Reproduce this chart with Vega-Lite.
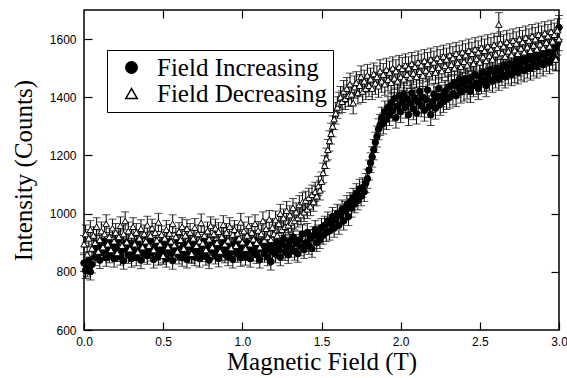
{
"$schema": "https://vega.github.io/schema/vega-lite/v6.json",
"width": 475, "height": 320,
"autosize": {"type": "none"},
"padding": {"left": 84, "top": 10, "right": 8, "bottom": 48},
"background": "white",
"config": {"view": {"stroke": "black", "strokeWidth": 1.5},
 "axis": {"domain": false, "grid": false, "tickColor": "black", "tickWidth": 1.2, "labelColor": "black", "titleColor": "black", "labelFont": "Liberation Sans", "labelFontSize": 12, "titleFont": "Liberation Serif", "titleFontSize": 25, "titleFontWeight": "normal", "labelFlush": false, "labelOverlap": false}},
"data": {"values": [
{"s":"I","x":0.00,"y":830,"e":29},{"s":"I","x":0.01,"y":805,"e":28},{"s":"I","x":0.02,"y":812,"e":29},{"s":"I","x":0.03,"y":840,"e":29},{"s":"I","x":0.04,"y":800,"e":28},{"s":"I","x":0.05,"y":825,"e":29},{"s":"I","x":0.06,"y":878,"e":30},{"s":"I","x":0.07,"y":850,"e":29},{"s":"I","x":0.08,"y":895,"e":30},{"s":"I","x":0.09,"y":862,"e":29},
{"s":"I","x":0.10,"y":840,"e":29},{"s":"I","x":0.11,"y":885,"e":30},{"s":"I","x":0.12,"y":870,"e":30},{"s":"I","x":0.13,"y":905,"e":30},{"s":"I","x":0.14,"y":848,"e":29},{"s":"I","x":0.15,"y":880,"e":30},{"s":"I","x":0.16,"y":860,"e":29},{"s":"I","x":0.17,"y":898,"e":30},{"s":"I","x":0.18,"y":872,"e":30},{"s":"I","x":0.19,"y":845,"e":29},
{"s":"I","x":0.20,"y":890,"e":30},{"s":"I","x":0.21,"y":866,"e":29},{"s":"I","x":0.22,"y":910,"e":30},{"s":"I","x":0.23,"y":852,"e":29},{"s":"I","x":0.24,"y":875,"e":30},{"s":"I","x":0.25,"y":838,"e":29},{"s":"I","x":0.26,"y":884,"e":30},{"s":"I","x":0.27,"y":900,"e":30},{"s":"I","x":0.28,"y":858,"e":29},{"s":"I","x":0.29,"y":876,"e":30},
{"s":"I","x":0.30,"y":845,"e":29},{"s":"I","x":0.31,"y":892,"e":30},{"s":"I","x":0.32,"y":868,"e":29},{"s":"I","x":0.33,"y":850,"e":29},{"s":"I","x":0.34,"y":904,"e":30},{"s":"I","x":0.35,"y":874,"e":30},{"s":"I","x":0.36,"y":840,"e":29},{"s":"I","x":0.37,"y":886,"e":30},{"s":"I","x":0.38,"y":862,"e":29},{"s":"I","x":0.39,"y":896,"e":30},
{"s":"I","x":0.40,"y":855,"e":29},{"s":"I","x":0.41,"y":880,"e":30},{"s":"I","x":0.42,"y":908,"e":30},{"s":"I","x":0.43,"y":866,"e":29},{"s":"I","x":0.44,"y":842,"e":29},{"s":"I","x":0.45,"y":888,"e":30},{"s":"I","x":0.46,"y":870,"e":30},{"s":"I","x":0.47,"y":852,"e":29},{"s":"I","x":0.48,"y":898,"e":30},{"s":"I","x":0.49,"y":876,"e":30},
{"s":"I","x":0.50,"y":860,"e":29},{"s":"I","x":0.51,"y":893,"e":30},{"s":"I","x":0.52,"y":845,"e":29},{"s":"I","x":0.53,"y":880,"e":30},{"s":"I","x":0.54,"y":902,"e":30},{"s":"I","x":0.55,"y":864,"e":29},{"s":"I","x":0.56,"y":838,"e":29},{"s":"I","x":0.57,"y":884,"e":30},{"s":"I","x":0.58,"y":872,"e":30},{"s":"I","x":0.59,"y":906,"e":30},
{"s":"I","x":0.60,"y":856,"e":29},{"s":"I","x":0.61,"y":878,"e":30},{"s":"I","x":0.62,"y":848,"e":29},{"s":"I","x":0.63,"y":894,"e":30},{"s":"I","x":0.64,"y":868,"e":29},{"s":"I","x":0.65,"y":842,"e":29},{"s":"I","x":0.66,"y":886,"e":30},{"s":"I","x":0.67,"y":900,"e":30},{"s":"I","x":0.68,"y":858,"e":29},{"s":"I","x":0.69,"y":875,"e":30},
{"s":"I","x":0.70,"y":850,"e":29},{"s":"I","x":0.71,"y":896,"e":30},{"s":"I","x":0.72,"y":870,"e":30},{"s":"I","x":0.73,"y":845,"e":29},{"s":"I","x":0.74,"y":890,"e":30},{"s":"I","x":0.75,"y":864,"e":29},{"s":"I","x":0.76,"y":905,"e":30},{"s":"I","x":0.77,"y":852,"e":29},{"s":"I","x":0.78,"y":880,"e":30},{"s":"I","x":0.79,"y":840,"e":29},
{"s":"I","x":0.80,"y":888,"e":30},{"s":"I","x":0.81,"y":872,"e":30},{"s":"I","x":0.82,"y":898,"e":30},{"s":"I","x":0.83,"y":856,"e":29},{"s":"I","x":0.84,"y":876,"e":30},{"s":"I","x":0.85,"y":846,"e":29},{"s":"I","x":0.86,"y":892,"e":30},{"s":"I","x":0.87,"y":866,"e":29},{"s":"I","x":0.88,"y":910,"e":30},{"s":"I","x":0.89,"y":860,"e":29},
{"s":"I","x":0.90,"y":882,"e":30},{"s":"I","x":0.91,"y":850,"e":29},{"s":"I","x":0.92,"y":894,"e":30},{"s":"I","x":0.93,"y":870,"e":30},{"s":"I","x":0.94,"y":842,"e":29},{"s":"I","x":0.95,"y":887,"e":30},{"s":"I","x":0.96,"y":902,"e":30},{"s":"I","x":0.97,"y":862,"e":29},{"s":"I","x":0.98,"y":878,"e":30},{"s":"I","x":0.99,"y":848,"e":29},
{"s":"I","x":1.00,"y":895,"e":30},{"s":"I","x":1.01,"y":868,"e":29},{"s":"I","x":1.02,"y":852,"e":29},{"s":"I","x":1.03,"y":900,"e":30},{"s":"I","x":1.04,"y":874,"e":30},{"s":"I","x":1.05,"y":845,"e":29},{"s":"I","x":1.06,"y":890,"e":30},{"s":"I","x":1.07,"y":866,"e":29},{"s":"I","x":1.08,"y":908,"e":30},{"s":"I","x":1.09,"y":858,"e":29},
{"s":"I","x":1.10,"y":880,"e":30},{"s":"I","x":1.11,"y":842,"e":29},{"s":"I","x":1.12,"y":886,"e":30},{"s":"I","x":1.13,"y":900,"e":30},{"s":"I","x":1.14,"y":862,"e":29},{"s":"I","x":1.15,"y":876,"e":30},{"s":"I","x":1.16,"y":850,"e":29},{"s":"I","x":1.17,"y":895,"e":30},{"s":"I","x":1.18,"y":835,"e":29},{"s":"I","x":1.19,"y":870,"e":30},
{"s":"I","x":1.20,"y":888,"e":30},{"s":"I","x":1.21,"y":860,"e":29},{"s":"I","x":1.22,"y":902,"e":30},{"s":"I","x":1.23,"y":876,"e":30},{"s":"I","x":1.24,"y":850,"e":29},{"s":"I","x":1.25,"y":895,"e":30},{"s":"I","x":1.26,"y":912,"e":30},{"s":"I","x":1.27,"y":868,"e":29},{"s":"I","x":1.28,"y":888,"e":30},{"s":"I","x":1.29,"y":858,"e":29},
{"s":"I","x":1.30,"y":905,"e":30},{"s":"I","x":1.31,"y":880,"e":30},{"s":"I","x":1.32,"y":920,"e":30},{"s":"I","x":1.33,"y":870,"e":30},{"s":"I","x":1.34,"y":898,"e":30},{"s":"I","x":1.35,"y":862,"e":29},{"s":"I","x":1.36,"y":910,"e":30},{"s":"I","x":1.37,"y":885,"e":30},{"s":"I","x":1.38,"y":930,"e":31},{"s":"I","x":1.39,"y":876,"e":30},
{"s":"I","x":1.40,"y":900,"e":30},{"s":"I","x":1.41,"y":935,"e":31},{"s":"I","x":1.42,"y":890,"e":30},{"s":"I","x":1.43,"y":915,"e":30},{"s":"I","x":1.44,"y":880,"e":30},{"s":"I","x":1.45,"y":925,"e":30},{"s":"I","x":1.46,"y":945,"e":31},{"s":"I","x":1.47,"y":900,"e":30},{"s":"I","x":1.48,"y":930,"e":31},{"s":"I","x":1.49,"y":910,"e":30},
{"s":"I","x":1.50,"y":952,"e":31},{"s":"I","x":1.51,"y":925,"e":30},{"s":"I","x":1.52,"y":960,"e":31},{"s":"I","x":1.53,"y":935,"e":31},{"s":"I","x":1.54,"y":975,"e":31},{"s":"I","x":1.55,"y":940,"e":31},{"s":"I","x":1.56,"y":965,"e":31},{"s":"I","x":1.57,"y":990,"e":31},{"s":"I","x":1.58,"y":950,"e":31},{"s":"I","x":1.59,"y":980,"e":31},
{"s":"I","x":1.60,"y":1000,"e":32},{"s":"I","x":1.61,"y":960,"e":31},{"s":"I","x":1.62,"y":995,"e":32},{"s":"I","x":1.63,"y":1015,"e":32},{"s":"I","x":1.64,"y":975,"e":31},{"s":"I","x":1.65,"y":1010,"e":32},{"s":"I","x":1.66,"y":1030,"e":32},{"s":"I","x":1.67,"y":990,"e":31},{"s":"I","x":1.68,"y":1040,"e":32},{"s":"I","x":1.69,"y":1020,"e":32},
{"s":"I","x":1.70,"y":1055,"e":32},{"s":"I","x":1.71,"y":1035,"e":32},{"s":"I","x":1.72,"y":1070,"e":33},{"s":"I","x":1.73,"y":1045,"e":32},{"s":"I","x":1.74,"y":1085,"e":33},{"s":"I","x":1.75,"y":1060,"e":33},{"s":"I","x":1.76,"y":1090,"e":33},{"s":"I","x":1.77,"y":1075,"e":33},{"s":"I","x":1.78,"y":1105,"e":33},{"s":"I","x":1.79,"y":1120,"e":33},
{"s":"I","x":1.80,"y":1150,"e":34},{"s":"I","x":1.81,"y":1175,"e":34},{"s":"I","x":1.82,"y":1195,"e":35},{"s":"I","x":1.83,"y":1220,"e":35},{"s":"I","x":1.84,"y":1245,"e":35},{"s":"I","x":1.85,"y":1265,"e":36},{"s":"I","x":1.86,"y":1290,"e":36},{"s":"I","x":1.87,"y":1305,"e":36},{"s":"I","x":1.88,"y":1330,"e":36},{"s":"I","x":1.89,"y":1310,"e":36},
{"s":"I","x":1.90,"y":1350,"e":37},{"s":"I","x":1.91,"y":1325,"e":36},{"s":"I","x":1.92,"y":1365,"e":37},{"s":"I","x":1.93,"y":1340,"e":37},{"s":"I","x":1.94,"y":1380,"e":37},{"s":"I","x":1.95,"y":1355,"e":37},{"s":"I","x":1.96,"y":1395,"e":37},{"s":"I","x":1.97,"y":1330,"e":36},{"s":"I","x":1.98,"y":1370,"e":37},{"s":"I","x":1.99,"y":1405,"e":37},
{"s":"I","x":2.00,"y":1350,"e":37},{"s":"I","x":2.01,"y":1385,"e":37},{"s":"I","x":2.02,"y":1410,"e":38},{"s":"I","x":2.03,"y":1365,"e":37},{"s":"I","x":2.04,"y":1395,"e":37},{"s":"I","x":2.05,"y":1340,"e":37},{"s":"I","x":2.06,"y":1380,"e":37},{"s":"I","x":2.07,"y":1415,"e":38},{"s":"I","x":2.08,"y":1360,"e":37},{"s":"I","x":2.09,"y":1398,"e":37},
{"s":"I","x":2.10,"y":1345,"e":37},{"s":"I","x":2.11,"y":1385,"e":37},{"s":"I","x":2.12,"y":1420,"e":38},{"s":"I","x":2.13,"y":1370,"e":37},{"s":"I","x":2.14,"y":1400,"e":37},{"s":"I","x":2.15,"y":1355,"e":37},{"s":"I","x":2.16,"y":1392,"e":37},{"s":"I","x":2.17,"y":1425,"e":38},{"s":"I","x":2.18,"y":1368,"e":37},{"s":"I","x":2.19,"y":1340,"e":37},
{"s":"I","x":2.20,"y":1385,"e":37},{"s":"I","x":2.21,"y":1410,"e":38},{"s":"I","x":2.22,"y":1362,"e":37},{"s":"I","x":2.23,"y":1398,"e":37},{"s":"I","x":2.24,"y":1430,"e":38},{"s":"I","x":2.25,"y":1375,"e":37},{"s":"I","x":2.26,"y":1405,"e":37},{"s":"I","x":2.27,"y":1385,"e":37},{"s":"I","x":2.28,"y":1420,"e":38},{"s":"I","x":2.29,"y":1395,"e":37},
{"s":"I","x":2.30,"y":1435,"e":38},{"s":"I","x":2.31,"y":1400,"e":37},{"s":"I","x":2.32,"y":1440,"e":38},{"s":"I","x":2.33,"y":1412,"e":38},{"s":"I","x":2.34,"y":1450,"e":38},{"s":"I","x":2.35,"y":1405,"e":37},{"s":"I","x":2.36,"y":1438,"e":38},{"s":"I","x":2.37,"y":1462,"e":38},{"s":"I","x":2.38,"y":1418,"e":38},{"s":"I","x":2.39,"y":1448,"e":38},
{"s":"I","x":2.40,"y":1425,"e":38},{"s":"I","x":2.41,"y":1465,"e":38},{"s":"I","x":2.42,"y":1432,"e":38},{"s":"I","x":2.43,"y":1455,"e":38},{"s":"I","x":2.44,"y":1420,"e":38},{"s":"I","x":2.45,"y":1470,"e":38},{"s":"I","x":2.46,"y":1440,"e":38},{"s":"I","x":2.47,"y":1478,"e":38},{"s":"I","x":2.48,"y":1448,"e":38},{"s":"I","x":2.49,"y":1430,"e":38},
{"s":"I","x":2.50,"y":1472,"e":38},{"s":"I","x":2.51,"y":1450,"e":38},{"s":"I","x":2.52,"y":1485,"e":39},{"s":"I","x":2.53,"y":1458,"e":38},{"s":"I","x":2.54,"y":1440,"e":38},{"s":"I","x":2.55,"y":1480,"e":38},{"s":"I","x":2.56,"y":1462,"e":38},{"s":"I","x":2.57,"y":1495,"e":39},{"s":"I","x":2.58,"y":1455,"e":38},{"s":"I","x":2.59,"y":1488,"e":39},
{"s":"I","x":2.60,"y":1470,"e":38},{"s":"I","x":2.61,"y":1500,"e":39},{"s":"I","x":2.62,"y":1462,"e":38},{"s":"I","x":2.63,"y":1492,"e":39},{"s":"I","x":2.64,"y":1478,"e":38},{"s":"I","x":2.65,"y":1510,"e":39},{"s":"I","x":2.66,"y":1470,"e":38},{"s":"I","x":2.67,"y":1502,"e":39},{"s":"I","x":2.68,"y":1485,"e":39},{"s":"I","x":2.69,"y":1515,"e":39},
{"s":"I","x":2.70,"y":1478,"e":38},{"s":"I","x":2.71,"y":1505,"e":39},{"s":"I","x":2.72,"y":1490,"e":39},{"s":"I","x":2.73,"y":1525,"e":39},{"s":"I","x":2.74,"y":1485,"e":39},{"s":"I","x":2.75,"y":1512,"e":39},{"s":"I","x":2.76,"y":1498,"e":39},{"s":"I","x":2.77,"y":1530,"e":39},{"s":"I","x":2.78,"y":1492,"e":39},{"s":"I","x":2.79,"y":1520,"e":39},
{"s":"I","x":2.80,"y":1505,"e":39},{"s":"I","x":2.81,"y":1538,"e":39},{"s":"I","x":2.82,"y":1498,"e":39},{"s":"I","x":2.83,"y":1528,"e":39},{"s":"I","x":2.84,"y":1512,"e":39},{"s":"I","x":2.85,"y":1545,"e":39},{"s":"I","x":2.86,"y":1505,"e":39},{"s":"I","x":2.87,"y":1535,"e":39},{"s":"I","x":2.88,"y":1520,"e":39},{"s":"I","x":2.89,"y":1552,"e":39},
{"s":"I","x":2.90,"y":1512,"e":39},{"s":"I","x":2.91,"y":1545,"e":39},{"s":"I","x":2.92,"y":1528,"e":39},{"s":"I","x":2.93,"y":1560,"e":40},{"s":"I","x":2.94,"y":1520,"e":39},{"s":"I","x":2.95,"y":1550,"e":39},{"s":"I","x":2.96,"y":1535,"e":39},{"s":"I","x":2.97,"y":1568,"e":40},{"s":"I","x":2.98,"y":1530,"e":39},{"s":"I","x":2.99,"y":1585,"e":40},
{"s":"I","x":3.00,"y":1640,"e":41},
{"s":"D","x":0.00,"y":895,"e":30},{"s":"D","x":0.01,"y":930,"e":31},{"s":"D","x":0.02,"y":860,"e":29},{"s":"D","x":0.03,"y":915,"e":30},{"s":"D","x":0.04,"y":945,"e":31},{"s":"D","x":0.05,"y":880,"e":30},{"s":"D","x":0.06,"y":925,"e":30},{"s":"D","x":0.07,"y":900,"e":30},{"s":"D","x":0.08,"y":955,"e":31},{"s":"D","x":0.09,"y":870,"e":30},
{"s":"D","x":0.10,"y":910,"e":30},{"s":"D","x":0.11,"y":940,"e":31},{"s":"D","x":0.12,"y":885,"e":30},{"s":"D","x":0.13,"y":930,"e":31},{"s":"D","x":0.14,"y":965,"e":31},{"s":"D","x":0.15,"y":895,"e":30},{"s":"D","x":0.16,"y":920,"e":30},{"s":"D","x":0.17,"y":875,"e":30},{"s":"D","x":0.18,"y":950,"e":31},{"s":"D","x":0.19,"y":905,"e":30},
{"s":"D","x":0.20,"y":935,"e":31},{"s":"D","x":0.21,"y":865,"e":29},{"s":"D","x":0.22,"y":920,"e":30},{"s":"D","x":0.23,"y":958,"e":31},{"s":"D","x":0.24,"y":890,"e":30},{"s":"D","x":0.25,"y":930,"e":31},{"s":"D","x":0.26,"y":975,"e":31},{"s":"D","x":0.27,"y":902,"e":30},{"s":"D","x":0.28,"y":940,"e":31},{"s":"D","x":0.29,"y":878,"e":30},
{"s":"D","x":0.30,"y":925,"e":30},{"s":"D","x":0.31,"y":955,"e":31},{"s":"D","x":0.32,"y":895,"e":30},{"s":"D","x":0.33,"y":935,"e":31},{"s":"D","x":0.34,"y":868,"e":29},{"s":"D","x":0.35,"y":915,"e":30},{"s":"D","x":0.36,"y":948,"e":31},{"s":"D","x":0.37,"y":885,"e":30},{"s":"D","x":0.38,"y":930,"e":31},{"s":"D","x":0.39,"y":905,"e":30},
{"s":"D","x":0.40,"y":960,"e":31},{"s":"D","x":0.41,"y":890,"e":30},{"s":"D","x":0.42,"y":925,"e":30},{"s":"D","x":0.43,"y":950,"e":31},{"s":"D","x":0.44,"y":875,"e":30},{"s":"D","x":0.45,"y":935,"e":31},{"s":"D","x":0.46,"y":908,"e":30},{"s":"D","x":0.47,"y":970,"e":31},{"s":"D","x":0.48,"y":895,"e":30},{"s":"D","x":0.49,"y":928,"e":30},
{"s":"D","x":0.50,"y":855,"e":29},{"s":"D","x":0.51,"y":915,"e":30},{"s":"D","x":0.52,"y":945,"e":31},{"s":"D","x":0.53,"y":885,"e":30},{"s":"D","x":0.54,"y":932,"e":31},{"s":"D","x":0.55,"y":905,"e":30},{"s":"D","x":0.56,"y":965,"e":31},{"s":"D","x":0.57,"y":892,"e":30},{"s":"D","x":0.58,"y":920,"e":30},{"s":"D","x":0.59,"y":870,"e":30},
{"s":"D","x":0.60,"y":938,"e":31},{"s":"D","x":0.61,"y":910,"e":30},{"s":"D","x":0.62,"y":955,"e":31},{"s":"D","x":0.63,"y":880,"e":30},{"s":"D","x":0.64,"y":925,"e":30},{"s":"D","x":0.65,"y":948,"e":31},{"s":"D","x":0.66,"y":895,"e":30},{"s":"D","x":0.67,"y":935,"e":31},{"s":"D","x":0.68,"y":862,"e":29},{"s":"D","x":0.69,"y":915,"e":30},
{"s":"D","x":0.70,"y":952,"e":31},{"s":"D","x":0.71,"y":890,"e":30},{"s":"D","x":0.72,"y":930,"e":31},{"s":"D","x":0.73,"y":905,"e":30},{"s":"D","x":0.74,"y":968,"e":31},{"s":"D","x":0.75,"y":898,"e":30},{"s":"D","x":0.76,"y":925,"e":30},{"s":"D","x":0.77,"y":875,"e":30},{"s":"D","x":0.78,"y":940,"e":31},{"s":"D","x":0.79,"y":912,"e":30},
{"s":"D","x":0.80,"y":958,"e":31},{"s":"D","x":0.81,"y":885,"e":30},{"s":"D","x":0.82,"y":930,"e":31},{"s":"D","x":0.83,"y":950,"e":31},{"s":"D","x":0.84,"y":900,"e":30},{"s":"D","x":0.85,"y":938,"e":31},{"s":"D","x":0.86,"y":870,"e":30},{"s":"D","x":0.87,"y":920,"e":30},{"s":"D","x":0.88,"y":962,"e":31},{"s":"D","x":0.89,"y":895,"e":30},
{"s":"D","x":0.90,"y":935,"e":31},{"s":"D","x":0.91,"y":908,"e":30},{"s":"D","x":0.92,"y":955,"e":31},{"s":"D","x":0.93,"y":882,"e":30},{"s":"D","x":0.94,"y":928,"e":30},{"s":"D","x":0.95,"y":945,"e":31},{"s":"D","x":0.96,"y":890,"e":30},{"s":"D","x":0.97,"y":932,"e":31},{"s":"D","x":0.98,"y":915,"e":30},{"s":"D","x":0.99,"y":970,"e":31},
{"s":"D","x":1.00,"y":902,"e":30},{"s":"D","x":1.01,"y":940,"e":31},{"s":"D","x":1.02,"y":880,"e":30},{"s":"D","x":1.03,"y":925,"e":30},{"s":"D","x":1.04,"y":958,"e":31},{"s":"D","x":1.05,"y":895,"e":30},{"s":"D","x":1.06,"y":935,"e":31},{"s":"D","x":1.07,"y":912,"e":30},{"s":"D","x":1.08,"y":965,"e":31},{"s":"D","x":1.09,"y":900,"e":30},
{"s":"D","x":1.10,"y":942,"e":31},{"s":"D","x":1.11,"y":885,"e":30},{"s":"D","x":1.12,"y":930,"e":31},{"s":"D","x":1.13,"y":975,"e":31},{"s":"D","x":1.14,"y":908,"e":30},{"s":"D","x":1.15,"y":948,"e":31},{"s":"D","x":1.16,"y":920,"e":30},{"s":"D","x":1.17,"y":980,"e":31},{"s":"D","x":1.18,"y":910,"e":30},{"s":"D","x":1.19,"y":952,"e":31},
{"s":"D","x":1.20,"y":930,"e":31},{"s":"D","x":1.21,"y":978,"e":31},{"s":"D","x":1.22,"y":925,"e":30},{"s":"D","x":1.23,"y":965,"e":31},{"s":"D","x":1.24,"y":1000,"e":32},{"s":"D","x":1.25,"y":945,"e":31},{"s":"D","x":1.26,"y":985,"e":31},{"s":"D","x":1.27,"y":955,"e":31},{"s":"D","x":1.28,"y":1010,"e":32},{"s":"D","x":1.29,"y":960,"e":31},
{"s":"D","x":1.30,"y":995,"e":32},{"s":"D","x":1.31,"y":970,"e":31},{"s":"D","x":1.32,"y":1020,"e":32},{"s":"D","x":1.33,"y":975,"e":31},{"s":"D","x":1.34,"y":1005,"e":32},{"s":"D","x":1.35,"y":985,"e":31},{"s":"D","x":1.36,"y":1030,"e":32},{"s":"D","x":1.37,"y":995,"e":32},{"s":"D","x":1.38,"y":1040,"e":32},{"s":"D","x":1.39,"y":1005,"e":32},
{"s":"D","x":1.40,"y":1045,"e":32},{"s":"D","x":1.41,"y":1015,"e":32},{"s":"D","x":1.42,"y":1055,"e":32},{"s":"D","x":1.43,"y":1025,"e":32},{"s":"D","x":1.44,"y":1065,"e":33},{"s":"D","x":1.45,"y":1040,"e":32},{"s":"D","x":1.46,"y":1075,"e":33},{"s":"D","x":1.47,"y":1060,"e":33},{"s":"D","x":1.48,"y":1095,"e":33},{"s":"D","x":1.49,"y":1080,"e":33},
{"s":"D","x":1.50,"y":1110,"e":33},{"s":"D","x":1.51,"y":1140,"e":34},{"s":"D","x":1.52,"y":1165,"e":34},{"s":"D","x":1.53,"y":1190,"e":35},{"s":"D","x":1.54,"y":1220,"e":35},{"s":"D","x":1.55,"y":1250,"e":35},{"s":"D","x":1.56,"y":1275,"e":36},{"s":"D","x":1.57,"y":1300,"e":36},{"s":"D","x":1.58,"y":1325,"e":36},{"s":"D","x":1.59,"y":1345,"e":37},
{"s":"D","x":1.60,"y":1365,"e":37},{"s":"D","x":1.61,"y":1380,"e":37},{"s":"D","x":1.62,"y":1400,"e":37},{"s":"D","x":1.63,"y":1385,"e":37},{"s":"D","x":1.64,"y":1420,"e":38},{"s":"D","x":1.65,"y":1395,"e":37},{"s":"D","x":1.66,"y":1430,"e":38},{"s":"D","x":1.67,"y":1405,"e":37},{"s":"D","x":1.68,"y":1445,"e":38},{"s":"D","x":1.69,"y":1410,"e":38},
{"s":"D","x":1.70,"y":1380,"e":37},{"s":"D","x":1.71,"y":1435,"e":38},{"s":"D","x":1.72,"y":1450,"e":38},{"s":"D","x":1.73,"y":1415,"e":38},{"s":"D","x":1.74,"y":1440,"e":38},{"s":"D","x":1.75,"y":1470,"e":38},{"s":"D","x":1.76,"y":1420,"e":38},{"s":"D","x":1.77,"y":1455,"e":38},{"s":"D","x":1.78,"y":1430,"e":38},{"s":"D","x":1.79,"y":1475,"e":38},
{"s":"D","x":1.80,"y":1440,"e":38},{"s":"D","x":1.81,"y":1462,"e":38},{"s":"D","x":1.82,"y":1430,"e":38},{"s":"D","x":1.83,"y":1480,"e":38},{"s":"D","x":1.84,"y":1448,"e":38},{"s":"D","x":1.85,"y":1470,"e":38},{"s":"D","x":1.86,"y":1438,"e":38},{"s":"D","x":1.87,"y":1490,"e":39},{"s":"D","x":1.88,"y":1455,"e":38},{"s":"D","x":1.89,"y":1478,"e":38},
{"s":"D","x":1.90,"y":1445,"e":38},{"s":"D","x":1.91,"y":1495,"e":39},{"s":"D","x":1.92,"y":1460,"e":38},{"s":"D","x":1.93,"y":1485,"e":39},{"s":"D","x":1.94,"y":1450,"e":38},{"s":"D","x":1.95,"y":1500,"e":39},{"s":"D","x":1.96,"y":1465,"e":38},{"s":"D","x":1.97,"y":1490,"e":39},{"s":"D","x":1.98,"y":1455,"e":38},{"s":"D","x":1.99,"y":1505,"e":39},
{"s":"D","x":2.00,"y":1470,"e":38},{"s":"D","x":2.01,"y":1498,"e":39},{"s":"D","x":2.02,"y":1462,"e":38},{"s":"D","x":2.03,"y":1510,"e":39},{"s":"D","x":2.04,"y":1478,"e":38},{"s":"D","x":2.05,"y":1500,"e":39},{"s":"D","x":2.06,"y":1468,"e":38},{"s":"D","x":2.07,"y":1515,"e":39},{"s":"D","x":2.08,"y":1482,"e":39},{"s":"D","x":2.09,"y":1505,"e":39},
{"s":"D","x":2.10,"y":1470,"e":38},{"s":"D","x":2.11,"y":1520,"e":39},{"s":"D","x":2.12,"y":1488,"e":39},{"s":"D","x":2.13,"y":1510,"e":39},{"s":"D","x":2.14,"y":1475,"e":38},{"s":"D","x":2.15,"y":1525,"e":39},{"s":"D","x":2.16,"y":1492,"e":39},{"s":"D","x":2.17,"y":1515,"e":39},{"s":"D","x":2.18,"y":1480,"e":38},{"s":"D","x":2.19,"y":1530,"e":39},
{"s":"D","x":2.20,"y":1498,"e":39},{"s":"D","x":2.21,"y":1520,"e":39},{"s":"D","x":2.22,"y":1485,"e":39},{"s":"D","x":2.23,"y":1535,"e":39},{"s":"D","x":2.24,"y":1502,"e":39},{"s":"D","x":2.25,"y":1525,"e":39},{"s":"D","x":2.26,"y":1490,"e":39},{"s":"D","x":2.27,"y":1540,"e":39},{"s":"D","x":2.28,"y":1508,"e":39},{"s":"D","x":2.29,"y":1530,"e":39},
{"s":"D","x":2.30,"y":1495,"e":39},{"s":"D","x":2.31,"y":1545,"e":39},{"s":"D","x":2.32,"y":1512,"e":39},{"s":"D","x":2.33,"y":1535,"e":39},{"s":"D","x":2.34,"y":1500,"e":39},{"s":"D","x":2.35,"y":1550,"e":39},{"s":"D","x":2.36,"y":1518,"e":39},{"s":"D","x":2.37,"y":1540,"e":39},{"s":"D","x":2.38,"y":1505,"e":39},{"s":"D","x":2.39,"y":1555,"e":39},
{"s":"D","x":2.40,"y":1522,"e":39},{"s":"D","x":2.41,"y":1545,"e":39},{"s":"D","x":2.42,"y":1510,"e":39},{"s":"D","x":2.43,"y":1560,"e":40},{"s":"D","x":2.44,"y":1528,"e":39},{"s":"D","x":2.45,"y":1550,"e":39},{"s":"D","x":2.46,"y":1515,"e":39},{"s":"D","x":2.47,"y":1565,"e":40},{"s":"D","x":2.48,"y":1532,"e":39},{"s":"D","x":2.49,"y":1555,"e":39},
{"s":"D","x":2.50,"y":1520,"e":39},{"s":"D","x":2.51,"y":1570,"e":40},{"s":"D","x":2.52,"y":1538,"e":39},{"s":"D","x":2.53,"y":1560,"e":40},{"s":"D","x":2.54,"y":1525,"e":39},{"s":"D","x":2.55,"y":1575,"e":40},{"s":"D","x":2.56,"y":1542,"e":39},{"s":"D","x":2.57,"y":1565,"e":40},{"s":"D","x":2.58,"y":1530,"e":39},{"s":"D","x":2.59,"y":1580,"e":40},
{"s":"D","x":2.60,"y":1548,"e":39},{"s":"D","x":2.61,"y":1570,"e":40},{"s":"D","x":2.62,"y":1650,"e":41},{"s":"D","x":2.63,"y":1585,"e":40},{"s":"D","x":2.64,"y":1552,"e":39},{"s":"D","x":2.65,"y":1575,"e":40},{"s":"D","x":2.66,"y":1540,"e":39},{"s":"D","x":2.67,"y":1590,"e":40},{"s":"D","x":2.68,"y":1558,"e":39},{"s":"D","x":2.69,"y":1580,"e":40},
{"s":"D","x":2.70,"y":1545,"e":39},{"s":"D","x":2.71,"y":1595,"e":40},{"s":"D","x":2.72,"y":1562,"e":40},{"s":"D","x":2.73,"y":1585,"e":40},{"s":"D","x":2.74,"y":1550,"e":39},{"s":"D","x":2.75,"y":1600,"e":40},{"s":"D","x":2.76,"y":1568,"e":40},{"s":"D","x":2.77,"y":1590,"e":40},{"s":"D","x":2.78,"y":1555,"e":39},{"s":"D","x":2.79,"y":1605,"e":40},
{"s":"D","x":2.80,"y":1572,"e":40},{"s":"D","x":2.81,"y":1595,"e":40},{"s":"D","x":2.82,"y":1560,"e":40},{"s":"D","x":2.83,"y":1610,"e":40},{"s":"D","x":2.84,"y":1578,"e":40},{"s":"D","x":2.85,"y":1600,"e":40},{"s":"D","x":2.86,"y":1565,"e":40},{"s":"D","x":2.87,"y":1615,"e":40},{"s":"D","x":2.88,"y":1582,"e":40},{"s":"D","x":2.89,"y":1605,"e":40},
{"s":"D","x":2.90,"y":1570,"e":40},{"s":"D","x":2.91,"y":1620,"e":40},{"s":"D","x":2.92,"y":1588,"e":40},{"s":"D","x":2.93,"y":1610,"e":40},{"s":"D","x":2.94,"y":1575,"e":40},{"s":"D","x":2.95,"y":1625,"e":40},{"s":"D","x":2.96,"y":1592,"e":40},{"s":"D","x":2.97,"y":1615,"e":40},{"s":"D","x":2.98,"y":1530,"e":39},{"s":"D","x":2.99,"y":1630,"e":40},
{"s":"D","x":3.00,"y":1600,"e":40}
]},
"layer": [
 {"mark": {"type": "errorbar", "ticks": {"size": 8}, "thickness": 1, "color": "black"},
  "encoding": {
   "x": {"field": "x", "type": "quantitative", "scale": {"domain": [0, 3], "nice": false, "zero": false},
     "axis": {"orient": "bottom", "values": [0, 0.5, 1, 1.5, 2, 2.5, 3], "format": ".1f", "tickSize": -8, "labelPadding": 14, "title": "Magnetic Field (T)", "titlePadding": 2}},
   "y": {"field": "y", "type": "quantitative", "scale": {"domain": [600, 1700], "nice": false, "zero": false},
     "axis": {"orient": "left", "values": [600, 800, 1000, 1200, 1400, 1600], "format": "d", "tickSize": -8, "labelPadding": 16, "title": "Intensity (Counts)", "titlePadding": 13}},
   "yError": {"field": "e"}
  }},
 {"mark": {"type": "point", "filled": true, "stroke": "black", "strokeWidth": 1, "opacity": 1, "size": 42},
  "encoding": {
   "x": {"field": "x", "type": "quantitative", "axis": {"orient": "top", "values": [0.5, 1, 1.5, 2, 2.5], "labels": false, "tickSize": -8, "title": null}},
   "y": {"field": "y", "type": "quantitative", "axis": {"orient": "right", "values": [800, 1000, 1200, 1400, 1600], "labels": false, "tickSize": -8, "title": null}},
   "shape": {"field": "s", "type": "nominal", "scale": {"domain": ["I", "D"], "range": ["circle", "triangle-up"]},
     "legend": {"orient": "none", "legendX": 23, "legendY": 40, "title": null, "strokeColor": "black", "fillColor": "white", "padding": 5, "rowPadding": 0,
       "labelFont": "Liberation Serif", "labelFontSize": 25, "labelColor": "black", "labelLimit": 400, "symbolSize": 130, "symbolOffset": 7, "labelOffset": 13,
       "labelExpr": "datum.label == 'I' ? 'Field Increasing' : 'Field Decreasing'",
       "encode": {"symbols": {
         "shape": {"condition": {"test": "datum.value === 'I'", "value": "circle"}, "value": "triangle-up"},
         "fill": {"condition": {"test": "datum.value === 'I'", "value": "black"}, "value": "white"},
         "stroke": {"value": "black"}, "strokeWidth": {"value": 1.2}, "size": {"value": 130}, "opacity": {"value": 1}}}}},
   "fill": {"field": "s", "type": "nominal", "scale": {"domain": ["I", "D"], "range": ["black", "white"]}, "legend": null}
  }}
],
"resolve": {"axis": {"x": "independent", "y": "independent"}}
}
